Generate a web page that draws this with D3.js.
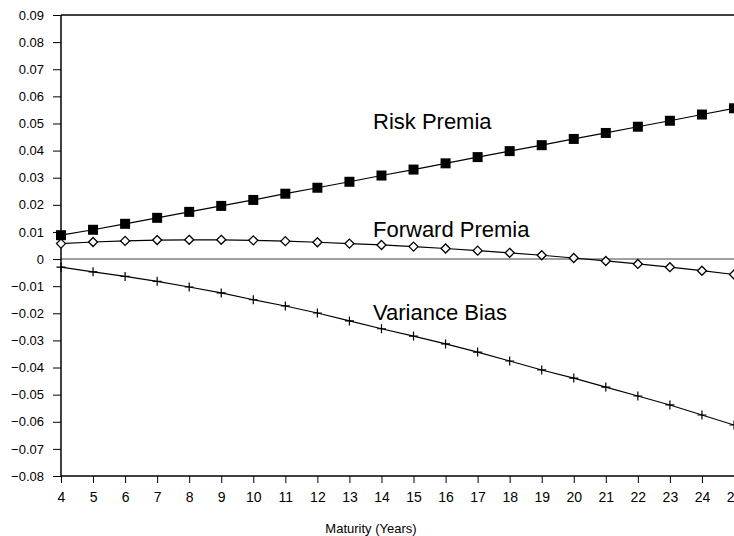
<!DOCTYPE html>
<html>
<head>
<meta charset="utf-8">
<script src="https://cdn.jsdelivr.net/npm/d3@7"></script>
<style>
  body { margin: 0; background: #fff; overflow: hidden; }
  svg { display: block; font-family: Arial, "Liberation Sans", sans-serif; }
</style>
</head>
<body>
<svg id="chart" width="734" height="536"></svg>
<script>
// maturity in years
var maturity = [4, 5, 6, 7, 8, 9, 10, 11, 12, 13, 14, 15, 16, 17, 18, 19, 20, 21, 22, 23, 24, 25];

var riskPremia = [0.0088, 0.0108, 0.0130, 0.0152, 0.0174, 0.0196, 0.0218, 0.0241, 0.0263, 0.0285, 0.0308,
                  0.0330, 0.0353, 0.0376, 0.0398, 0.0420, 0.0443, 0.0465, 0.0488, 0.0510, 0.0533, 0.0556];
var forwardPremia = [0.0057, 0.0063, 0.0067, 0.0070, 0.0071, 0.0071, 0.0069, 0.0066, 0.0062, 0.0057, 0.0052,
                     0.0046, 0.0039, 0.0031, 0.0023, 0.0014, 0.0004, -0.0007, -0.0018, -0.0030, -0.0043, -0.0057];
var varianceBias = [-0.0030, -0.0047, -0.0064, -0.0082, -0.0103, -0.0125, -0.0150, -0.0173, -0.0199, -0.0228, -0.0257,
                    -0.0284, -0.0313, -0.0343, -0.0376, -0.0409, -0.0439, -0.0472, -0.0505, -0.0538, -0.0575, -0.0612];

var yTicks = [0.09, 0.08, 0.07, 0.06, 0.05, 0.04, 0.03, 0.02, 0.01, 0, -0.01, -0.02, -0.03, -0.04, -0.05, -0.06, -0.07, -0.08];
var seriesNames = ["Risk Premia", "Forward Premia", "Variance Bias"];

var svg = d3.select("#chart");
var margin = {top: 15, left: 61, bottom: 476, right: 734};

var x = d3.scaleLinear().domain([4, 25]).range([margin.left, margin.right]);
var y = d3.scaleLinear().domain([-0.08, 0.09]).range([margin.bottom, margin.top]);

// top frame line
svg.append("line")
  .attr("x1", margin.left).attr("x2", margin.right + 2)
  .attr("y1", margin.top).attr("y2", margin.top)
  .attr("stroke", "#000").attr("stroke-width", 1.5);

// zero line
svg.append("line")
  .attr("x1", margin.left).attr("x2", margin.right)
  .attr("y1", y(0)).attr("y2", y(0))
  .attr("stroke", "#808080").attr("stroke-width", 1.5);

// y axis
var yAxis = svg.append("g")
  .attr("transform", "translate(" + margin.left + ",0)")
  .call(d3.axisLeft(y).tickValues(yTicks).tickSize(8).tickPadding(9)
    .tickFormat(function(d) { return d === 0 ? "0" : d3.format(".2f")(d); }));
yAxis.select(".domain").attr("stroke-width", 1.5).attr("d", "M0," + margin.top + "V" + margin.bottom);
yAxis.selectAll("line").attr("stroke", "#000");
yAxis.selectAll("text").attr("font-size", 13).attr("font-family", "Arial, 'Liberation Sans', sans-serif").attr("fill", "#000");

// x axis
var xAxis = svg.append("g")
  .attr("transform", "translate(0," + margin.bottom + ")")
  .call(d3.axisBottom(x).tickValues(maturity).tickSize(7).tickPadding(9).tickFormat(d3.format("d")));
xAxis.select(".domain").attr("stroke-width", 1.5).attr("d", "M" + margin.left + ",0H" + margin.right);
xAxis.selectAll("text").attr("font-size", 14).attr("font-family", "Arial, 'Liberation Sans', sans-serif").attr("fill", "#000");

svg.append("text")
  .attr("x", 371).attr("y", 533)
  .attr("text-anchor", "middle")
  .attr("font-size", 13)
  .text("Maturity (Years)");

var line = d3.line()
  .x(function(d, i) { return x(maturity[i]); })
  .y(function(d) { return y(d); });

[riskPremia, forwardPremia, varianceBias].forEach(function(s) {
  svg.append("path").datum(s)
    .attr("d", line)
    .attr("fill", "none")
    .attr("stroke", "#000")
    .attr("stroke-width", 1.2);
});

// squares
svg.append("g").selectAll("rect")
  .data(riskPremia).enter().append("rect")
  .attr("x", function(d, i) { return x(maturity[i]) - 5; })
  .attr("y", function(d) { return y(d) - 5; })
  .attr("width", 10).attr("height", 10)
  .attr("fill", "#000");

// diamonds
svg.append("g").selectAll("path")
  .data(forwardPremia).enter().append("path")
  .attr("transform", function(d, i) { return "translate(" + x(maturity[i]) + "," + y(d) + ")"; })
  .attr("d", "M0,-4.5L4.5,0L0,4.5L-4.5,0Z")
  .attr("fill", "#fff")
  .attr("stroke", "#000")
  .attr("stroke-width", 1.3);

// crosses
svg.append("g").selectAll("path")
  .data(varianceBias).enter().append("path")
  .attr("transform", function(d, i) { return "translate(" + x(maturity[i]) + "," + y(d) + ")"; })
  .attr("d", "M-4.5,0H4.5M0,-4.5V4.5")
  .attr("stroke", "#000")
  .attr("stroke-width", 1.2);

// series labels
var labelY = [129, 237, 320];
svg.append("g").selectAll("text")
  .data(seriesNames).enter().append("text")
  .attr("x", 373)
  .attr("y", function(d, i) { return labelY[i]; })
  .attr("font-size", 22)
  .text(function(d) { return d; });
</script>
</body>
</html>
